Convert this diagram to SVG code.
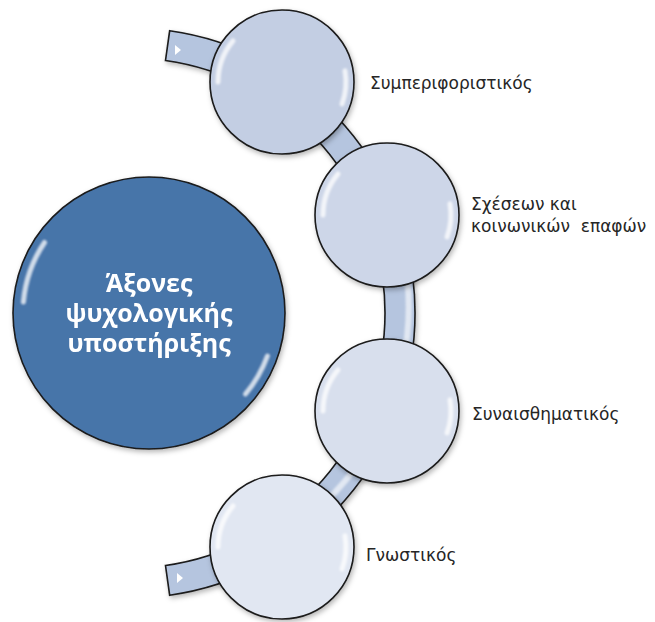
<svg xmlns="http://www.w3.org/2000/svg" xmlns:xlink="http://www.w3.org/1999/xlink" width="655" height="622" viewBox="0 0 655 622">
  <style>
    .node { stroke: #1a1a1a; stroke-width: 1.6; }
    .gloss { fill: none; stroke: #ffffff; stroke-width: 5; stroke-linecap: round; opacity: 0.75; }
    .label { font-family: "DejaVu Sans", "Liberation Sans", sans-serif; font-size: 17px; fill: #262626; white-space: pre; }
    .title { font-family: "Open Sans", "Noto Sans", "DejaVu Sans", sans-serif; font-size: 25px; font-weight: 700; fill: #ffffff; text-anchor: middle; }
  </style>
  <defs>
    <filter id="shadow" x="-20%" y="-20%" width="140%" height="140%">
      <feDropShadow dx="1.5" dy="2.5" stdDeviation="2.5" flood-color="#000" flood-opacity="0.28"/>
    </filter>
    <filter id="soft" x="-20%" y="-20%" width="140%" height="140%">
      <feGaussianBlur stdDeviation="1.3"/>
    </filter>
    <g id="gloss-small" filter="url(#soft)">
      <path class="gloss" d="M-64,0 A64,64 0 0,1 -49,-41.1"/>
      <path class="gloss" d="M63,-11.1 A64,64 0 0,1 60.1,21.9"/>
    </g>
  </defs>

  <g id="connectors">
    <path id="track" d="M169.66,30.77 A285,285 0 0,1 169.66,595.23 L165.49,565.52 A255,255 0 0,0 165.49,60.48 Z" fill="#b5c5df" stroke="#1a1a1a" stroke-width="1.6" filter="url(#shadow)"/>
    <path d="M363.2,157 A270,270 0 0,1 280,537" fill="none" stroke="#ffffff" stroke-width="6" opacity="0.6" filter="url(#soft)"/>
    <polygon points="175,45 175,55 181,50" fill="#ffffff"/>
    <polygon points="177,573 177,583 183,578" fill="#ffffff"/>
  </g>

  <g id="node-center" filter="url(#shadow)">
    <circle cx="149" cy="313" r="136" fill="#4774a9" class="node"/>
    <g filter="url(#soft)">
      <path d="M23.4,302 A126,126 0 0,1 44.5,242.5" fill="none" stroke="#ffffff" stroke-width="5" stroke-linecap="round" opacity="0.75"/>
      <path d="M267.4,356 A126,126 0 0,1 245.5,394" fill="none" stroke="#ffffff" stroke-width="5" stroke-linecap="round" opacity="0.75"/>
    </g>
    <text class="title" x="149" y="292">Άξονες</text>
    <text class="title" x="149" y="322">ψυχολογικής</text>
    <text class="title" x="149" y="352">υποστήριξης</text>
  </g>

  <g id="node-1">
    <g transform="translate(282,82)" filter="url(#shadow)">
      <circle cx="0" cy="0" r="72" fill="#c3cee3" class="node"/>
      <use xlink:href="#gloss-small"/>
    </g>
    <text class="label" x="370" y="89">Συμπεριφοριστικός</text>
  </g>

  <g id="node-2">
    <g transform="translate(387,215)" filter="url(#shadow)">
      <circle cx="0" cy="0" r="72" fill="#cdd6e8" class="node"/>
      <use xlink:href="#gloss-small"/>
    </g>
    <text class="label" x="471" y="210">Σχέσεων και</text>
    <text class="label" x="471" y="232">κοινωνικών  επαφών</text>
  </g>

  <g id="node-3">
    <g transform="translate(387,411)" filter="url(#shadow)">
      <circle cx="0" cy="0" r="72" fill="#d8dfed" class="node"/>
      <use xlink:href="#gloss-small"/>
    </g>
    <text class="label" x="472" y="420">Συναισθηματικός</text>
  </g>

  <g id="node-4">
    <g transform="translate(282,547)" filter="url(#shadow)">
      <circle cx="0" cy="0" r="72" fill="#e1e7f2" class="node"/>
      <use xlink:href="#gloss-small"/>
    </g>
    <text class="label" x="366" y="561">Γνωστικός</text>
  </g>
</svg>
